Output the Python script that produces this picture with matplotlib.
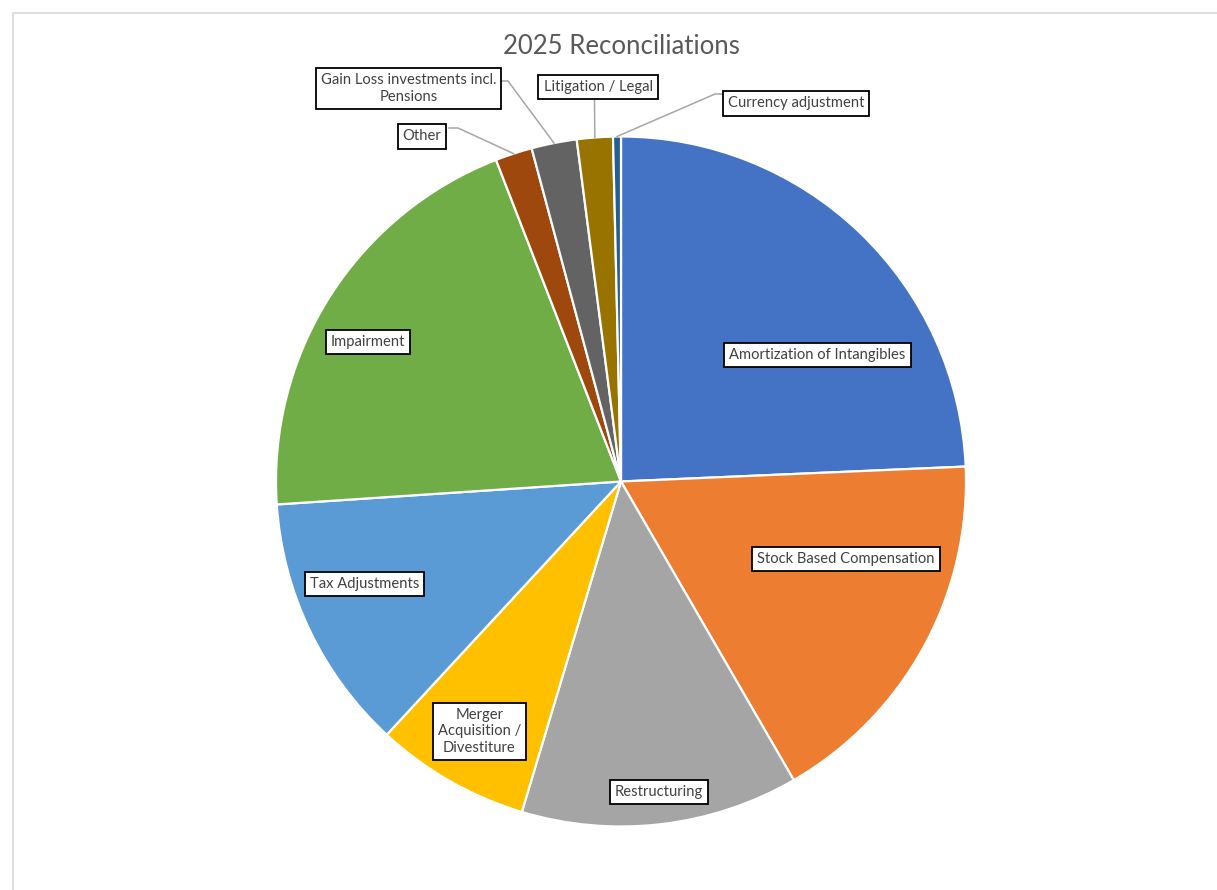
import matplotlib
matplotlib.use('Agg')
import matplotlib.pyplot as plt
import numpy as np
from matplotlib.patches import Rectangle

# ---- data ----
categories = ["Amortization of Intangibles", "Stock Based Compensation", "Restructuring",
              "Merger Acquisition / Divestiture", "Tax Adjustments", "Impairment", "Other",
              "Gain Loss investments incl. Pensions", "Litigation / Legal", "Currency adjustment"]
values = [24.31, 17.34, 12.99, 7.24, 12.06, 20.16, 1.73, 2.12, 1.68, 0.37]
label_texts = ["Amortization of Intangibles", "Stock Based Compensation", "Restructuring",
               "Merger\nAcquisition /\nDivestiture", "Tax Adjustments", "Impairment", "Other",
               "Gain Loss investments incl.\nPensions", "Litigation / Legal", "Currency adjustment"]
title = "2025 Reconciliations"

# ---- style / layout ----
colors = ['#4472C4', '#ED7D31', '#A5A5A5', '#FFC000', '#5B9BD5',
          '#70AD47', '#9E480E', '#636363', '#997300', '#255E91']
FONT = ['Lato', 'DejaVu Sans']
W, H = 1217, 890
CX, CY, R = 621, 481.5, 345

# label box centres in pixels (from top-left)
label_px = [(817.5, 355), (846, 559), (659, 792), (479.5, 731.5), (364.5, 584),
            (368, 342), (422, 136.5), (408.5, 88.5), (598, 87), (796, 103.5)]
# leader lines: start points (px) for labels outside the pie (index -> list of points)
leader_px = {6: [(449, 128), (458, 128)],
             7: [(502, 81), (508, 81)],
             8: [(594.5, 100)],
             9: [(722, 94), (715, 94)]}

fig = plt.figure(figsize=(W / 100, H / 100), dpi=100)
fig.patch.set_facecolor('white')

# chart-area border (cropped screenshot look)
fig.patches.append(Rectangle((13 / W, -0.05), 1.2, (H - 13) / H + 0.05,
                             transform=fig.transFigure, fill=False,
                             edgecolor='#D9D9D9', linewidth=1.2))

ax = fig.add_axes([(CX - R) / W, (H - CY - R) / H, 2 * R / W, 2 * R / H])
wedges, _ = ax.pie(values, colors=colors, startangle=90, counterclock=False,
                   wedgeprops=dict(edgecolor='white', linewidth=1.6))
ax.set_xlim(-1, 1)
ax.set_ylim(-1, 1)


def px2d(p):
    return ((p[0] - CX) / R, (CY - p[1]) / R)


for i, w in enumerate(wedges):
    x, y = px2d(label_px[i])
    ax.text(x, y, label_texts[i], ha='center', va='center', fontsize=10.6,
            family=FONT, color='#404040', linespacing=1.2, multialignment='center',
            bbox=dict(boxstyle='square,pad=0.34', fc='white', ec='black', lw=1.3),
            zorder=5, clip_on=False)
    if i in leader_px:
        mid = np.deg2rad((w.theta1 + w.theta2) / 2)
        pts = [px2d(p) for p in leader_px[i]] + [(np.cos(mid), np.sin(mid))]
        xs, ys = zip(*pts)
        ax.plot(xs, ys, color='#A6A6A6', lw=1.1, zorder=4, clip_on=False)

fig.text(CX / W, 1 - 46 / H, title, ha='center', va='center', fontsize=18.5,
         family=FONT, color='#595959')

fig.savefig('out.png', dpi=100)
